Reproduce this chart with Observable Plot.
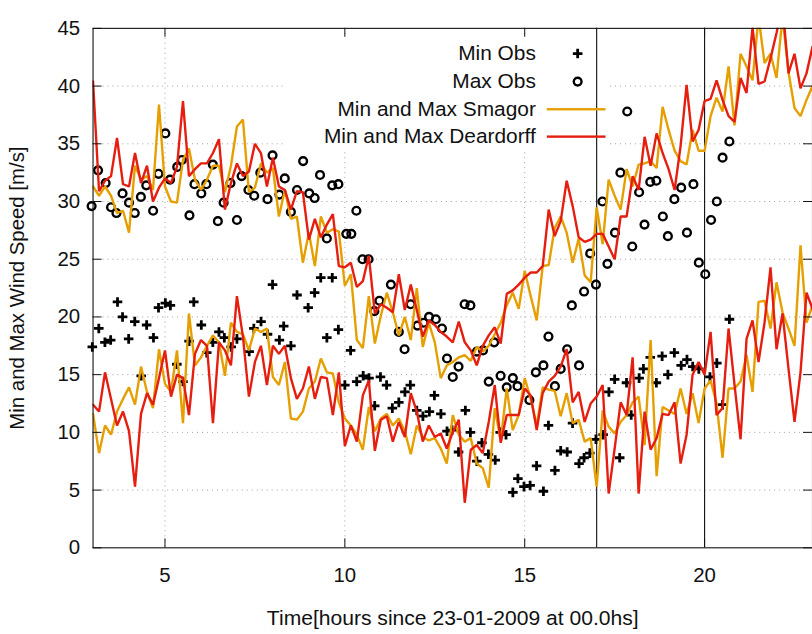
<!DOCTYPE html>
<html>
<head>
<meta charset="utf-8">
<script src="https://cdn.jsdelivr.net/npm/d3@7"></script>
<script src="https://cdn.jsdelivr.net/npm/@observablehq/plot@0.6"></script>
<style>
  html, body { margin: 0; padding: 0; background: #fff; }
  #chart { width: 812px; height: 634px; overflow: hidden; position: relative; }
</style>
</head>
<body>
<div id="chart"></div>
<script>
// ---------- data ----------
// model output every 10 minutes, starting at hour 3
const modelStartHour = 3;
const modelStepHours = 1 / 6;

const minDeardorff = [
  12.4, 11.8, 15.2, 12.9, 10.6, 11.8, 10.1, 5.3, 11.6, 13.4,
  12.4, 14.7, 17.1, 13.1, 15.0, 14.7, 11.5, 16.8, 18.0, 17.5,
  10.8, 17.8, 17.1, 15.8, 21.8, 18.3, 13.1, 16.1, 17.5, 14.1,
  17.5, 16.8, 17.5, 14.7, 12.9, 13.8, 15.7, 12.9, 14.8, 14.7,
  11.5, 15.2, 8.8, 10.6, 9.2, 13.2, 14.5, 8.4, 11.1, 11.4,
  9.2, 10.9, 9.6, 13.4, 11.8, 9.2, 10.6, 9.6, 9.9, 8.6,
  10.0, 11.1, 3.9, 8.5, 8.9, 8.2, 10.9, 14.1, 9.1, 11.5,
  11.5, 11.5, 13.8, 13.2, 10.2, 13.4, 14.4, 14.9, 15.7, 17.2,
  12.6, 13.5, 10.9, 12.5, 13.1, 14.1, 4.7, 8.6, 12.6, 11.5,
  16.5, 4.7, 11.8, 8.5, 9.5, 11.6, 11.5, 12.6, 7.3, 9.8,
  15.0, 16.1, 15.0, 18.7, 11.5, 12.1, 19.0, 14.1, 9.4, 18.1,
  19.7, 16.1, 19.5, 24.3, 17.2, 20.3, 15.5, 10.9, 15.2, 22.1,
  20.7
];
const maxDeardorff = [
  40.4, 30.9, 31.8, 32.2, 35.5, 31.5, 31.3, 34.2, 31.6, 33.1,
  30.0, 31.2, 32.0, 31.6, 33.0, 38.7, 32.2, 32.8, 33.3, 33.3,
  34.2, 35.4, 29.3, 31.6, 33.3, 32.2, 32.6, 35.0, 34.2, 31.3,
  33.8, 31.3, 31.0, 29.3, 30.9, 30.8, 26.7, 28.5, 26.9, 28.0,
  28.9, 24.4, 24.3, 24.7, 22.6, 23.1, 25.3, 20.3, 21.1, 20.8,
  20.4, 23.7, 20.6, 22.8, 20.6, 18.3, 19.7, 19.3, 18.7, 18.3,
  17.8, 19.6, 17.8, 17.1, 15.8, 17.5, 18.4, 19.1, 17.7, 22.0,
  22.3, 22.8, 23.4, 23.85, 23.85, 24.4, 29.3, 27.0, 28.3, 31.8,
  29.6, 26.9, 26.5, 26.7, 27.2, 27.2, 26.1, 25.0, 28.7, 28.7,
  32.2, 31.0, 35.6, 33.1, 35.9, 34.2, 32.8, 31.0, 34.8, 40.1,
  35.2, 36.2, 38.7, 38.9, 40.5, 38.8, 37.4, 36.9, 40.7, 39.4,
  45.1, 40.2, 40.4, 42.4, 44.6, 47.0, 41.1, 42.8, 39.8, 41.1,
  43.4
];
const minSmagor = [
  11.6, 8.2, 10.6, 9.8, 11.8, 12.9, 13.9, 12.4, 15.7, 13.5,
  12.1, 17.2, 14.2, 13.5, 17.1, 10.8, 20.3, 15.8, 16.5, 17.5,
  18.4, 17.8, 14.9, 19.5, 18.7, 18.5, 17.1, 19.0, 18.7, 19.0,
  14.8, 14.1, 16.1, 11.2, 11.1, 11.8, 13.8, 14.4, 16.4, 15.2,
  15.1, 12.6, 11.2, 10.6, 9.8, 8.5, 12.2, 10.1, 11.2, 11.6,
  10.6, 11.2, 10.1, 8.1, 10.6, 9.6, 9.3, 9.5, 8.6, 7.3,
  11.5, 9.8, 9.2, 9.5, 7.3, 6.9, 5.2, 12.1, 9.3, 13.8,
  10.2, 11.5, 14.7, 12.9, 10.6, 13.9, 13.7, 13.6, 11.4, 13.4,
  10.8, 11.1, 9.2, 9.5, 5.3, 11.9, 10.5, 9.9, 10.9, 11.5,
  12.6, 13.1, 8.9, 18.0, 6.2, 12.2, 11.9, 11.6, 13.8, 11.6,
  13.4, 10.8, 13.8, 14.5, 12.5, 7.8, 13.8, 13.8, 14.4, 16.7,
  13.5, 21.3, 21.4, 19.0, 23.0, 20.4, 19.0, 17.5, 26.2, 19.5,
  21.0
];
const maxSmagor = [
  31.3, 30.5, 31.3, 30.5, 29.0, 29.2, 27.3, 33.1, 31.9, 32.2,
  31.0, 38.4, 31.3, 30.0, 29.9, 33.6, 34.6, 31.9, 31.0, 31.9,
  33.1, 33.1, 30.8, 33.1, 36.5, 37.1, 30.8, 31.2, 33.3, 32.5,
  32.9, 28.7, 31.0, 28.5, 28.7, 24.7, 27.3, 24.4, 28.7, 27.3,
  27.6, 27.4, 22.7, 23.7, 18.0, 17.3, 21.8, 17.7, 20.1, 22.1,
  20.4, 18.4, 20.0, 18.0, 22.5, 17.4, 19.5, 17.8, 14.7, 15.8,
  16.1, 16.5, 16.7, 16.2, 17.4, 17.0, 17.5, 18.5, 19.5, 21.0,
  22.1, 20.7, 24.0, 21.8, 19.7, 24.4, 24.5, 27.7, 28.7, 27.3,
  24.7, 26.8, 23.6, 23.0, 29.5, 26.3, 31.9, 30.5, 29.3, 32.8,
  31.3, 33.2, 33.3, 33.5, 32.9, 38.2, 36.2, 34.4, 33.5, 33.2,
  36.2, 34.4, 34.4, 37.4, 39.0, 37.8, 41.7, 36.6, 42.8, 41.7,
  40.5, 46.0, 42.0, 42.8, 40.7, 46.0, 41.2, 38.1, 37.4, 38.8,
  40.0
];

// observations (time in hours, speed in m/s)
const minObsTime = [
  2.98, 3.16, 3.33, 3.49, 3.68, 3.82, 3.99, 4.16, 4.34, 4.49, 4.68, 4.82, 5.01, 5.15, 5.33, 5.50, 5.67, 5.80, 6.01, 6.16,
  6.33, 6.50, 6.65, 6.84, 7.00, 7.34, 7.47, 7.67, 7.85, 7.99, 8.18, 8.30, 8.50, 8.67, 8.98, 9.16, 9.33, 9.50, 9.65, 9.82,
  10.00, 10.16, 10.33, 10.51, 10.67, 10.83, 10.99, 11.16, 11.32, 11.50, 11.67, 11.82, 12.00, 12.17, 12.35, 12.49, 12.67, 12.84,
  12.98, 13.16, 13.35, 13.49, 13.67, 13.81, 13.99, 14.18, 14.32, 14.48, 14.67, 14.81, 14.98, 15.15, 15.33, 15.52, 15.66, 15.84,
  16.00, 16.18, 16.33, 16.51, 16.65, 16.81, 16.98, 17.18, 17.34, 17.50, 17.64, 17.83, 17.96, 18.18, 18.30, 18.49, 18.66, 18.82,
  18.98, 19.16, 19.35, 19.51, 19.67, 19.84, 20.15, 20.34, 20.50, 20.69
];
const minObsValue = [
  17.4, 19.0, 17.8, 18.0, 21.3, 20.0, 18.1, 19.6, 14.9, 19.3, 18.2, 20.8, 21.2, 21.0, 15.9, 14.4, 17.9, 21.3, 19.3, 16.9,
  17.8, 18.7, 18.2, 17.4, 18.1, 17.0, 19.0, 19.6, 18.5, 22.8, 18.0, 19.2, 17.5, 21.9, 20.8, 22.1, 23.4, 18.2, 23.4, 18.9,
  14.1, 17.1, 14.4, 14.9, 14.7, 12.3, 14.8, 14.1, 12.1, 12.6, 13.5, 14.1, 11.9, 11.4, 11.8, 13.2, 11.6, 10.1,
  10.2, 8.3, 11.9, 10.0, 7.5, 9.1, 8.1, 7.6, 10.0, 9.8, 4.8, 6.0, 5.3, 5.4, 7.1, 4.9, 10.6, 6.7,
  8.4, 8.3, 10.8, 7.3, 7.8, 8.2, 9.4, 9.8, 13.5, 14.6, 7.8, 14.3, 11.5, 14.7, 15.5, 16.5, 14.3, 16.6,
  15.0, 16.9, 15.8, 16.3, 15.7, 15.5, 14.8, 16.0, 12.4, 19.8
];
const maxObsTime = [
  2.96, 3.14, 3.35, 3.50, 3.65, 3.82, 4.00, 4.16, 4.33, 4.48, 4.67, 4.82, 5.01, 5.14, 5.34, 5.47, 5.68, 5.82, 6.01, 6.15,
  6.33, 6.47, 6.63, 6.82, 7.00, 7.13, 7.32, 7.48, 7.65, 7.85, 7.99, 8.18, 8.33, 8.50, 8.67, 8.84, 9.01, 9.16, 9.31, 9.50,
  9.65, 9.82, 10.04, 10.18, 10.32, 10.49, 10.66, 10.82, 10.96, 11.28, 11.50, 11.66, 11.83, 12.02, 12.19, 12.34, 12.53, 12.70,
  12.84, 13.00, 13.16, 13.33, 13.49, 13.67, 13.84, 14.00, 14.15, 14.33, 14.50, 14.67, 14.80, 15.13, 15.31, 15.52, 15.66, 15.84,
  16.00, 16.18, 16.31, 16.51, 16.65, 16.82, 16.98, 17.16, 17.30, 17.51, 17.66, 17.85, 17.99, 18.18, 18.33, 18.49, 18.66, 18.84,
  18.98, 19.16, 19.35, 19.51, 19.69, 19.84, 20.02, 20.18, 20.34, 20.50, 20.69
];
const maxObsValue = [
  29.6, 32.7, 31.6, 29.5, 29.0, 30.7, 29.9, 29.0, 30.4, 31.4, 29.2, 32.4, 35.9, 31.9, 33.0, 33.6, 28.8, 31.5, 30.7, 31.5,
  33.2, 28.3, 29.9, 31.6, 28.4, 32.2, 31.0, 30.5, 32.5, 30.2, 34.0, 30.6, 32.0, 29.1, 31.0, 33.5, 30.7, 30.3, 32.3, 26.8,
  31.4, 31.5, 27.2, 27.2, 29.2, 25.0, 25.0, 20.5, 21.4, 22.8, 18.7, 17.2, 21.1, 19.25, 19.5, 20.0, 19.8, 19.0,
  16.4, 14.8, 15.7, 21.1, 21.0, 17.0, 17.1, 14.4, 17.8, 14.9, 13.9, 14.7, 14.0, 12.8, 15.2, 15.8, 18.3, 14.0,
  15.5, 17.2, 21.0, 15.8, 22.2, 25.5, 22.8, 30.0, 24.6, 27.3, 32.5, 37.8, 26.1, 30.8, 28.0, 31.7, 31.8, 28.7,
  27.0, 30.2, 31.2, 27.3, 31.5, 24.7, 23.7, 28.4, 30.0, 33.8, 35.2
];

const xTicks = [5, 10, 15, 20];
const yTicks = [0, 5, 10, 15, 20, 25, 30, 35, 40, 45];
const yGridValues = [5, 10, 15, 20, 25, 30, 35, 40];
const markerTimes = [17, 20];
const xDomain = [3, 23];
const yDomain = [0, 45];
const xLabel = "Time[hours since 23-01-2009 at 00.0hs]";
const yLabel = "Min and Max Wind Speed [m/s]";
const legendLabels = ["Min Obs", "Max Obs", "Min and Max Smagor", "Min and Max Deardorff"];

// ---------- build tables ----------
const modelTime = minDeardorff.map((_, i) => modelStartHour + i * modelStepHours);
const toRows = (arr) => arr.map((v, i) => ({t: modelTime[i], v}));
const minObs = minObsTime.map((t, i) => ({t, v: minObsValue[i]}));
const maxObs = maxObsTime.map((t, i) => ({t, v: maxObsValue[i]}));

// ---------- layout / style ----------
const W = 816, H = 634;
const mL = 93, mR = 0, mT = 28, mB = 84;
const pw = W - mL - mR, ph = H - mT - mB;
const font = "'Liberation Sans', Arial, Helvetica, sans-serif";
const ink = "#111";
const orange = "#e69f00", red = "#e51e10";
const gridStyle = {stroke: "#a0a0a0", strokeOpacity: 1, strokeWidth: 1, strokeDasharray: "1,4"};
const lineStyle = {x: "t", y: "v", strokeWidth: 2.4, clip: true, strokeLinejoin: "miter"};
const plusStyle = {symbol: "plus", r: 3.2, stroke: "#000", strokeWidth: 2.8};
const circleStyle = {symbol: "circle", r: 3.9, stroke: "#000", strokeWidth: 2.4, fill: "none"};
const txt = {fontFamily: font, fontSize: 20.5, fill: ink};

// legend geometry (pixels)
const legendRows = [53.3, 81.5, 109.3, 136.8];
const legendTextRight = 538;
const legendSymbolX = 580;
const legendLineFrom = 549, legendLineTo = 608;
const legendBox = {left: 287, right: 612, top: 35, bottom: 152};

const legendMarks = [
  Plot.frame({fill: "white", stroke: null,
    insetLeft: legendBox.left - mL, insetRight: W - legendBox.right,
    insetTop: legendBox.top - mT, insetBottom: (mT + ph) - legendBox.bottom})
];
const legendFront = [
  ...legendLabels.map((label, k) => Plot.text([label], {
    frameAnchor: "top-left", dx: legendTextRight - mL, dy: legendRows[k] - mT,
    textAnchor: "end", lineAnchor: "middle", ...txt, fontSize: 21
  })),
  Plot.dot([0], {frameAnchor: "top-left", dx: legendSymbolX - mL, dy: legendRows[0] - mT, ...plusStyle}),
  Plot.dot([0], {frameAnchor: "top-left", dx: legendSymbolX - mL, dy: legendRows[1] - mT, ...circleStyle}),
  ...[orange, red].map((c, k) => Plot.frame({fill: c, stroke: null,
    insetLeft: legendLineFrom - mL, insetRight: W - legendLineTo,
    insetTop: legendRows[k + 2] - 1.2 - mT, insetBottom: (mT + ph) - (legendRows[k + 2] + 1.2)}))
];

const chart = Plot.plot({
  width: W, height: H,
  marginLeft: mL, marginRight: mR, marginTop: mT, marginBottom: mB,
  x: {domain: xDomain, axis: null},
  y: {domain: yDomain, axis: null},
  style: {fontFamily: font, background: "white", overflow: "visible"},
  marks: [
    Plot.gridX(xTicks, gridStyle),
    Plot.gridY(yGridValues, gridStyle),
    ...legendMarks,
    Plot.ruleX(markerTimes, {stroke: ink, strokeWidth: 1.1}),
    Plot.dot(minObs, {x: "t", y: "v", ...plusStyle}),
    Plot.dot(maxObs, {x: "t", y: "v", ...circleStyle}),
    Plot.line(toRows(minSmagor), {...lineStyle, stroke: orange}),
    Plot.line(toRows(maxSmagor), {...lineStyle, stroke: orange}),
    Plot.line(toRows(minDeardorff), {...lineStyle, stroke: red}),
    Plot.line(toRows(maxDeardorff), {...lineStyle, stroke: red}),
    // inward ticks on all four sides
    Plot.tickY(yTicks, {y: d => d, insetRight: pw - 9, stroke: ink}),
    Plot.tickY(yTicks, {y: d => d, insetLeft: pw - 9, stroke: ink}),
    Plot.tickX(xTicks, {x: d => d, insetTop: ph - 9, stroke: ink}),
    Plot.tickX(xTicks, {x: d => d, insetBottom: ph - 9, stroke: ink}),
    Plot.frame({stroke: ink, strokeWidth: 1.1}),
    // tick labels
    Plot.text(yTicks, {y: d => d, text: d => String(d), frameAnchor: "left", dx: -13, textAnchor: "end", lineAnchor: "middle", ...txt}),
    Plot.text(xTicks, {x: d => d, text: d => String(d), frameAnchor: "bottom", dy: 28, textAnchor: "middle", lineAnchor: "middle", ...txt}),
    // axis titles
    Plot.text([xLabel], {frameAnchor: "bottom", dy: 71, textAnchor: "middle", lineAnchor: "middle", ...txt, fontSize: 21.2}),
    Plot.text([yLabel], {frameAnchor: "left", dx: 17 - mL, rotate: -90, textAnchor: "middle", lineAnchor: "middle", ...txt}),
    ...legendFront
  ]
});
document.getElementById("chart").appendChild(chart);
</script>
</body>
</html>
